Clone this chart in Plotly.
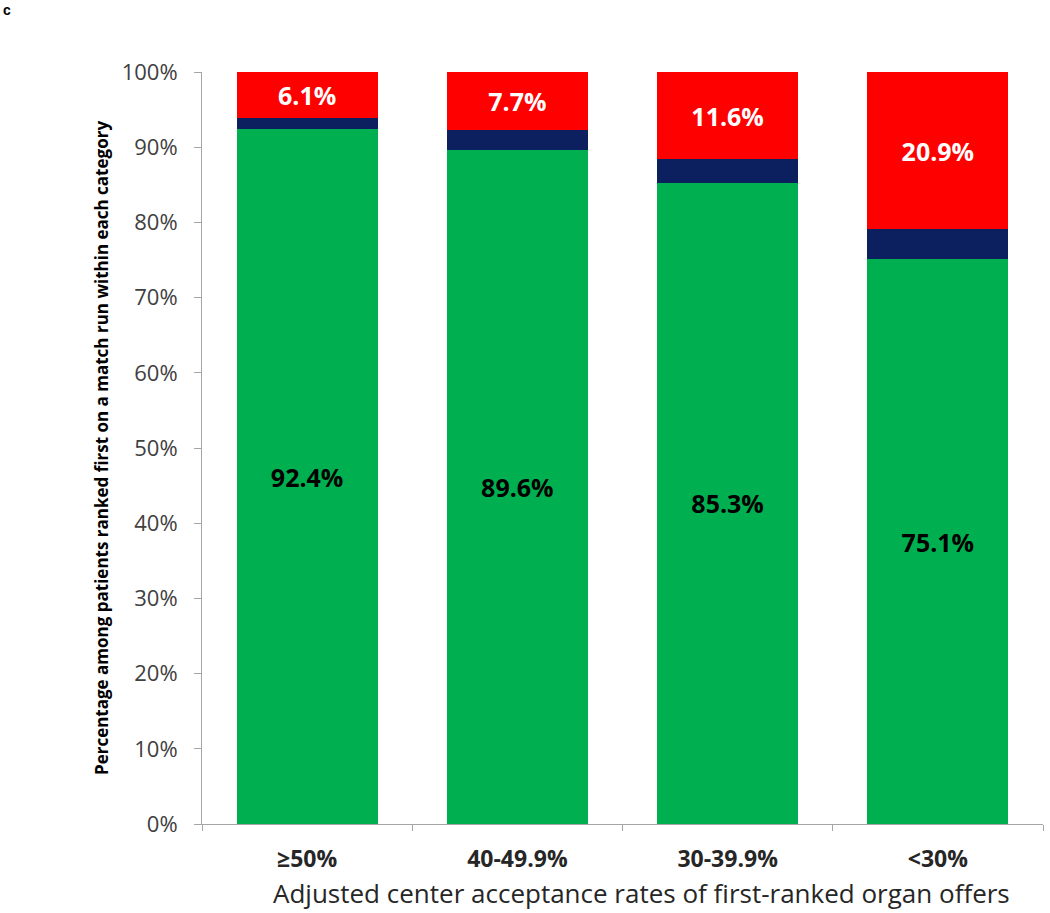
import plotly.graph_objects as go

categories = ["≥50%", "40-49.9%", "30-39.9%", "<30%"]
green_vals = [92.4, 89.6, 85.3, 75.1]
navy_vals = [1.5, 2.7, 3.1, 4.0]
red_vals = [6.1, 7.7, 11.6, 20.9]
y_ticks = [0, 10, 20, 30, 40, 50, 60, 70, 80, 90, 100]
y_tick_labels = [f"{v}%" for v in y_ticks]

FONT = "Open Sans"
L, R, T, B = 202, 7, 72, 89
W, H = 1050, 913
PW, PH = W - L - R, H - T - B

fig = go.Figure()
fig.add_trace(go.Bar(
    x=categories, y=green_vals, marker=dict(color="#00B050", line=dict(width=0)),
    text=[f"{v}%" for v in green_vals], textposition="inside", insidetextanchor="middle",
    textfont=dict(family=FONT, size=25, color="black", weight="bold"), textangle=0,
    hoverinfo="skip"))
fig.add_trace(go.Bar(
    x=categories, y=navy_vals, marker=dict(color="#0C1F5E", line=dict(width=0)),
    hoverinfo="skip"))
fig.add_trace(go.Bar(
    x=categories, y=red_vals, marker=dict(color="#FF0000", line=dict(width=0)),
    text=[f"{v}%" for v in red_vals], textposition="inside", insidetextanchor="middle",
    textfont=dict(family=FONT, size=25, color="white", weight="bold"), textangle=0,
    hoverinfo="skip"))

fig.update_layout(
    barmode="stack", bargap=0.33, showlegend=False,
    width=W, height=H,
    margin=dict(l=L, r=R, t=T, b=B),
    paper_bgcolor="white", plot_bgcolor="white",
    font=dict(family=FONT, color="#404040"),
    uniformtext=dict(mode=False),
    xaxis=dict(
        type="category", showline=True, linecolor="#A6A6A6", linewidth=1,
        ticks="outside", tickson="boundaries", ticklen=6, tickcolor="#A6A6A6",
        ticklabelstandoff=14,
        tickfont=dict(family=FONT, size=23, color="#262626", weight="bold"),
        showgrid=False, fixedrange=True),
    yaxis=dict(
        range=[0, 100], tickvals=y_ticks, ticktext=y_tick_labels,
        showline=True, linecolor="#A6A6A6", linewidth=1,
        ticks="outside", ticklen=7, tickcolor="#A6A6A6",
        ticklabelstandoff=12,
        tickfont=dict(family=FONT, size=22, color="#404040"),
        title=dict(text="Percentage among patients ranked first on a match run within each category",
                   font=dict(family=FONT, size=17, color="#000000", weight="bold"), standoff=8),
        showgrid=False, zeroline=False, fixedrange=True),
    annotations=[
        dict(text="<b>c</b>", x=(1 - L) / PW, y=1 + (T - 0) / PH,
             xref="paper", yref="paper",
             xanchor="left", yanchor="top", showarrow=False,
             font=dict(family="Liberation Sans", size=14, color="black")),
        dict(text="Adjusted center acceptance rates of first-ranked organ offers",
             x=(641 - L) / PW, y=-(893 - T - PH) / PH,
             xref="paper", yref="paper", xanchor="center", yanchor="middle",
             showarrow=False, font=dict(family=FONT, size=26, color="#262626")),
    ],
)

fig.write_html("out.html", config={"displayModeBar": False},
               post_script="document.body.style.margin='0';")
